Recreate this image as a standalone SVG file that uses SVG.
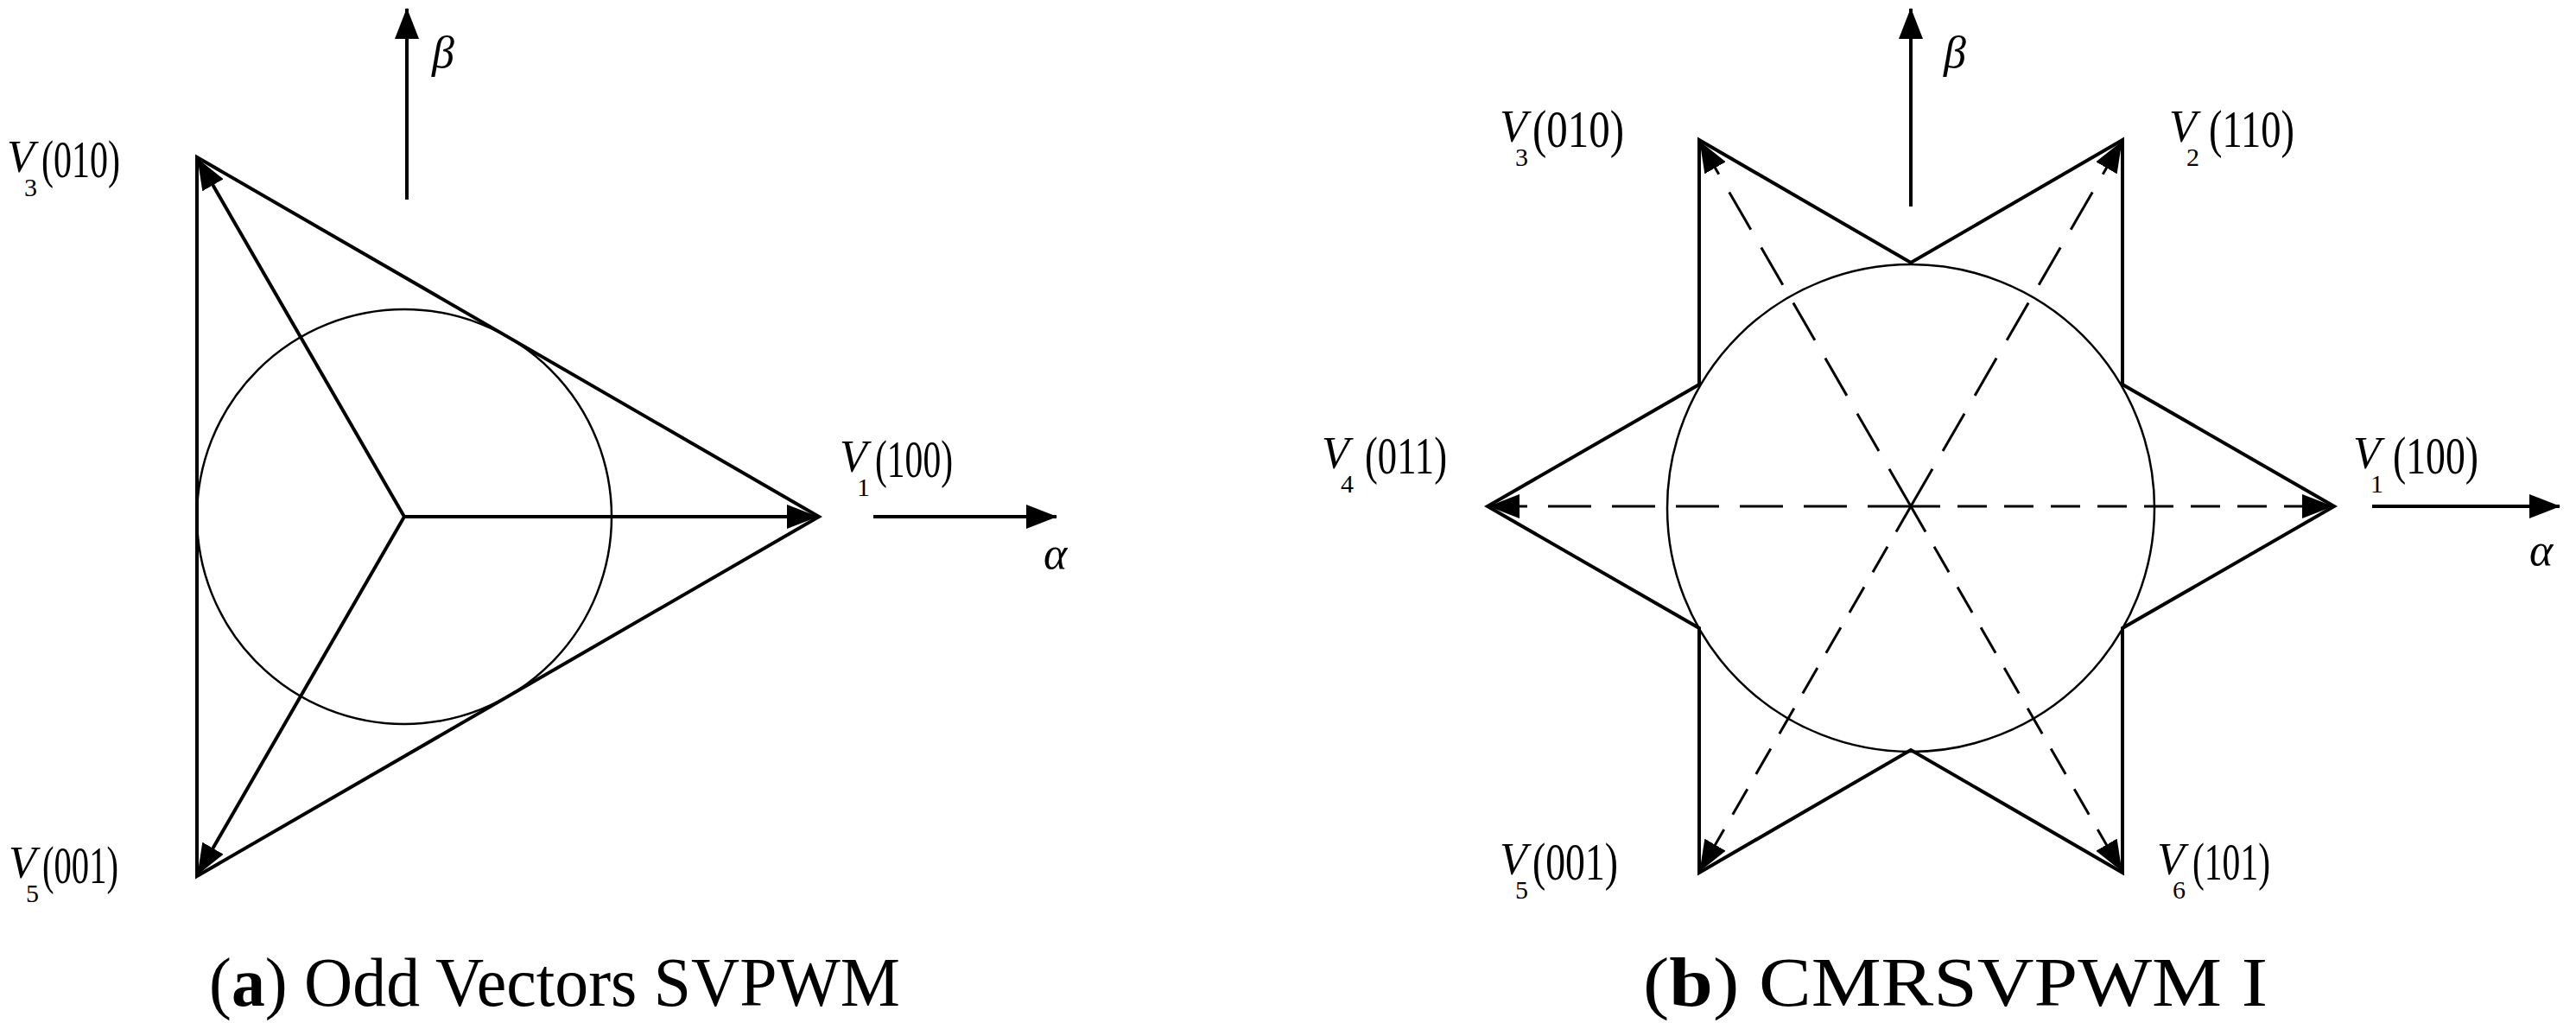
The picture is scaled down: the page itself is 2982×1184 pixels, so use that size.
<svg xmlns="http://www.w3.org/2000/svg" width="2982" height="1184" viewBox="0 0 2982 1184">
<style>
.s{fill:none;stroke:#000;stroke-width:4}
.c{fill:none;stroke:#000;stroke-width:2.5}
.d1{fill:none;stroke:#000;stroke-width:3;stroke-dasharray:50 24}
.d2{fill:none;stroke:#000;stroke-width:3;stroke-dasharray:34 20}
.v{font-family:"Liberation Serif",serif;font-style:italic;font-size:52px}
.sub{font-family:"Liberation Serif",serif;font-size:30px}
.n{font-family:"Liberation Serif",serif;font-size:62px}
.g{font-family:"Liberation Serif",serif;font-style:italic;font-size:52px}
.cap{font-family:"Liberation Serif",serif;font-size:80px}
</style>
<defs>
<marker id="ah" markerUnits="userSpaceOnUse" markerWidth="36" markerHeight="28" refX="35" refY="14" orient="auto"><path d="M0,0 L36,14 L0,28 z" fill="#000"/></marker>
</defs>
<g id="panel-a">
<g id="a-shapes">
<polygon class="s" points="228,182 948,598 228,1014"/>
<circle class="c" cx="468" cy="598" r="240"/>
</g>
<g id="a-connectors">
<line class="s" x1="468" y1="598" x2="946" y2="598" marker-end="url(#ah)"/>
<line class="s" x1="468" y1="598" x2="229" y2="184" marker-end="url(#ah)"/>
<line class="s" x1="468" y1="598" x2="229" y2="1012" marker-end="url(#ah)"/>
<line class="s" x1="471" y1="231" x2="471" y2="10" marker-end="url(#ah)"/>
<line class="s" x1="1011" y1="598" x2="1223" y2="598" marker-end="url(#ah)"/>
</g>
<g id="a-labels">
<text class="g" x="500" y="78">β</text>
<text class="g" x="1208" y="658">α</text>
<g id="a-V1"><text class="v" x="972" y="546">V</text><text class="sub" x="992" y="574">1</text><text class="n" x="1013" y="552" textLength="90" lengthAdjust="spacingAndGlyphs">(100)</text></g>
<g id="a-V3"><text class="v" x="8" y="199">V</text><text class="sub" x="28" y="227">3</text><text class="n" x="48" y="205" textLength="91" lengthAdjust="spacingAndGlyphs">(010)</text></g>
<g id="a-V5"><text class="v" x="10" y="1016">V</text><text class="sub" x="30" y="1044">5</text><text class="n" x="49" y="1022" textLength="88" lengthAdjust="spacingAndGlyphs">(001)</text></g>
<text class="cap" x="242" y="1164" textLength="800" lengthAdjust="spacingAndGlyphs">(<tspan font-weight="bold">a</tspan>) Odd Vectors SVPWM</text>
</g>
</g>
<g id="panel-b">
<g id="b-shapes">
<polygon class="s" points="2702,586 2457,445 2457,162 2212,304 1967,162 1967,445 1722,586 1967,727 1967,1010 2212,868 2457,1010 2457,727"/>
<circle class="c" cx="2212" cy="588" r="282"/>
</g>
<g id="b-connectors">
<line class="d2" x1="2212" y1="586" x2="2700" y2="586" marker-end="url(#ah)"/>
<line class="d1" x1="2212" y1="586" x2="1724" y2="586" marker-end="url(#ah)"/>
<line class="d1" x1="2212" y1="586" x2="1968" y2="164" marker-end="url(#ah)"/>
<line class="d1" x1="2212" y1="586" x2="2456" y2="164" marker-end="url(#ah)"/>
<line class="d2" x1="2212" y1="586" x2="1968" y2="1008" marker-end="url(#ah)"/>
<line class="d2" x1="2212" y1="586" x2="2456" y2="1008" marker-end="url(#ah)"/>
<line class="s" x1="2212" y1="239" x2="2212" y2="10" marker-end="url(#ah)"/>
<line class="s" x1="2746" y1="586" x2="2963" y2="586" marker-end="url(#ah)"/>
</g>
<g id="b-labels">
<text class="g" x="2250" y="78">β</text>
<text class="g" x="2928" y="654">α</text>
<g id="b-V1"><text class="v" x="2724" y="542">V</text><text class="sub" x="2744" y="570">1</text><text class="n" x="2770" y="548" textLength="99" lengthAdjust="spacingAndGlyphs">(100)</text></g>
<g id="b-V2"><text class="v" x="2511" y="164">V</text><text class="sub" x="2531" y="192">2</text><text class="n" x="2557" y="170" textLength="99" lengthAdjust="spacingAndGlyphs">(110)</text></g>
<g id="b-V3"><text class="v" x="1736" y="164">V</text><text class="sub" x="1754" y="192">3</text><text class="n" x="1774" y="170" textLength="106" lengthAdjust="spacingAndGlyphs">(010)</text></g>
<g id="b-V4"><text class="v" x="1530" y="542">V</text><text class="sub" x="1552" y="570">4</text><text class="n" x="1580" y="548" textLength="95" lengthAdjust="spacingAndGlyphs">(011)</text></g>
<g id="b-V5"><text class="v" x="1736" y="1012">V</text><text class="sub" x="1754" y="1040">5</text><text class="n" x="1774" y="1018" textLength="99" lengthAdjust="spacingAndGlyphs">(001)</text></g>
<g id="b-V6"><text class="v" x="2497" y="1012">V</text><text class="sub" x="2515" y="1040">6</text><text class="n" x="2538" y="1018" textLength="90" lengthAdjust="spacingAndGlyphs">(101)</text></g>
<text class="cap" x="1902" y="1164" textLength="723" lengthAdjust="spacingAndGlyphs">(<tspan font-weight="bold">b</tspan>) CMRSVPWM I</text>
</g>
</g>
</svg>
